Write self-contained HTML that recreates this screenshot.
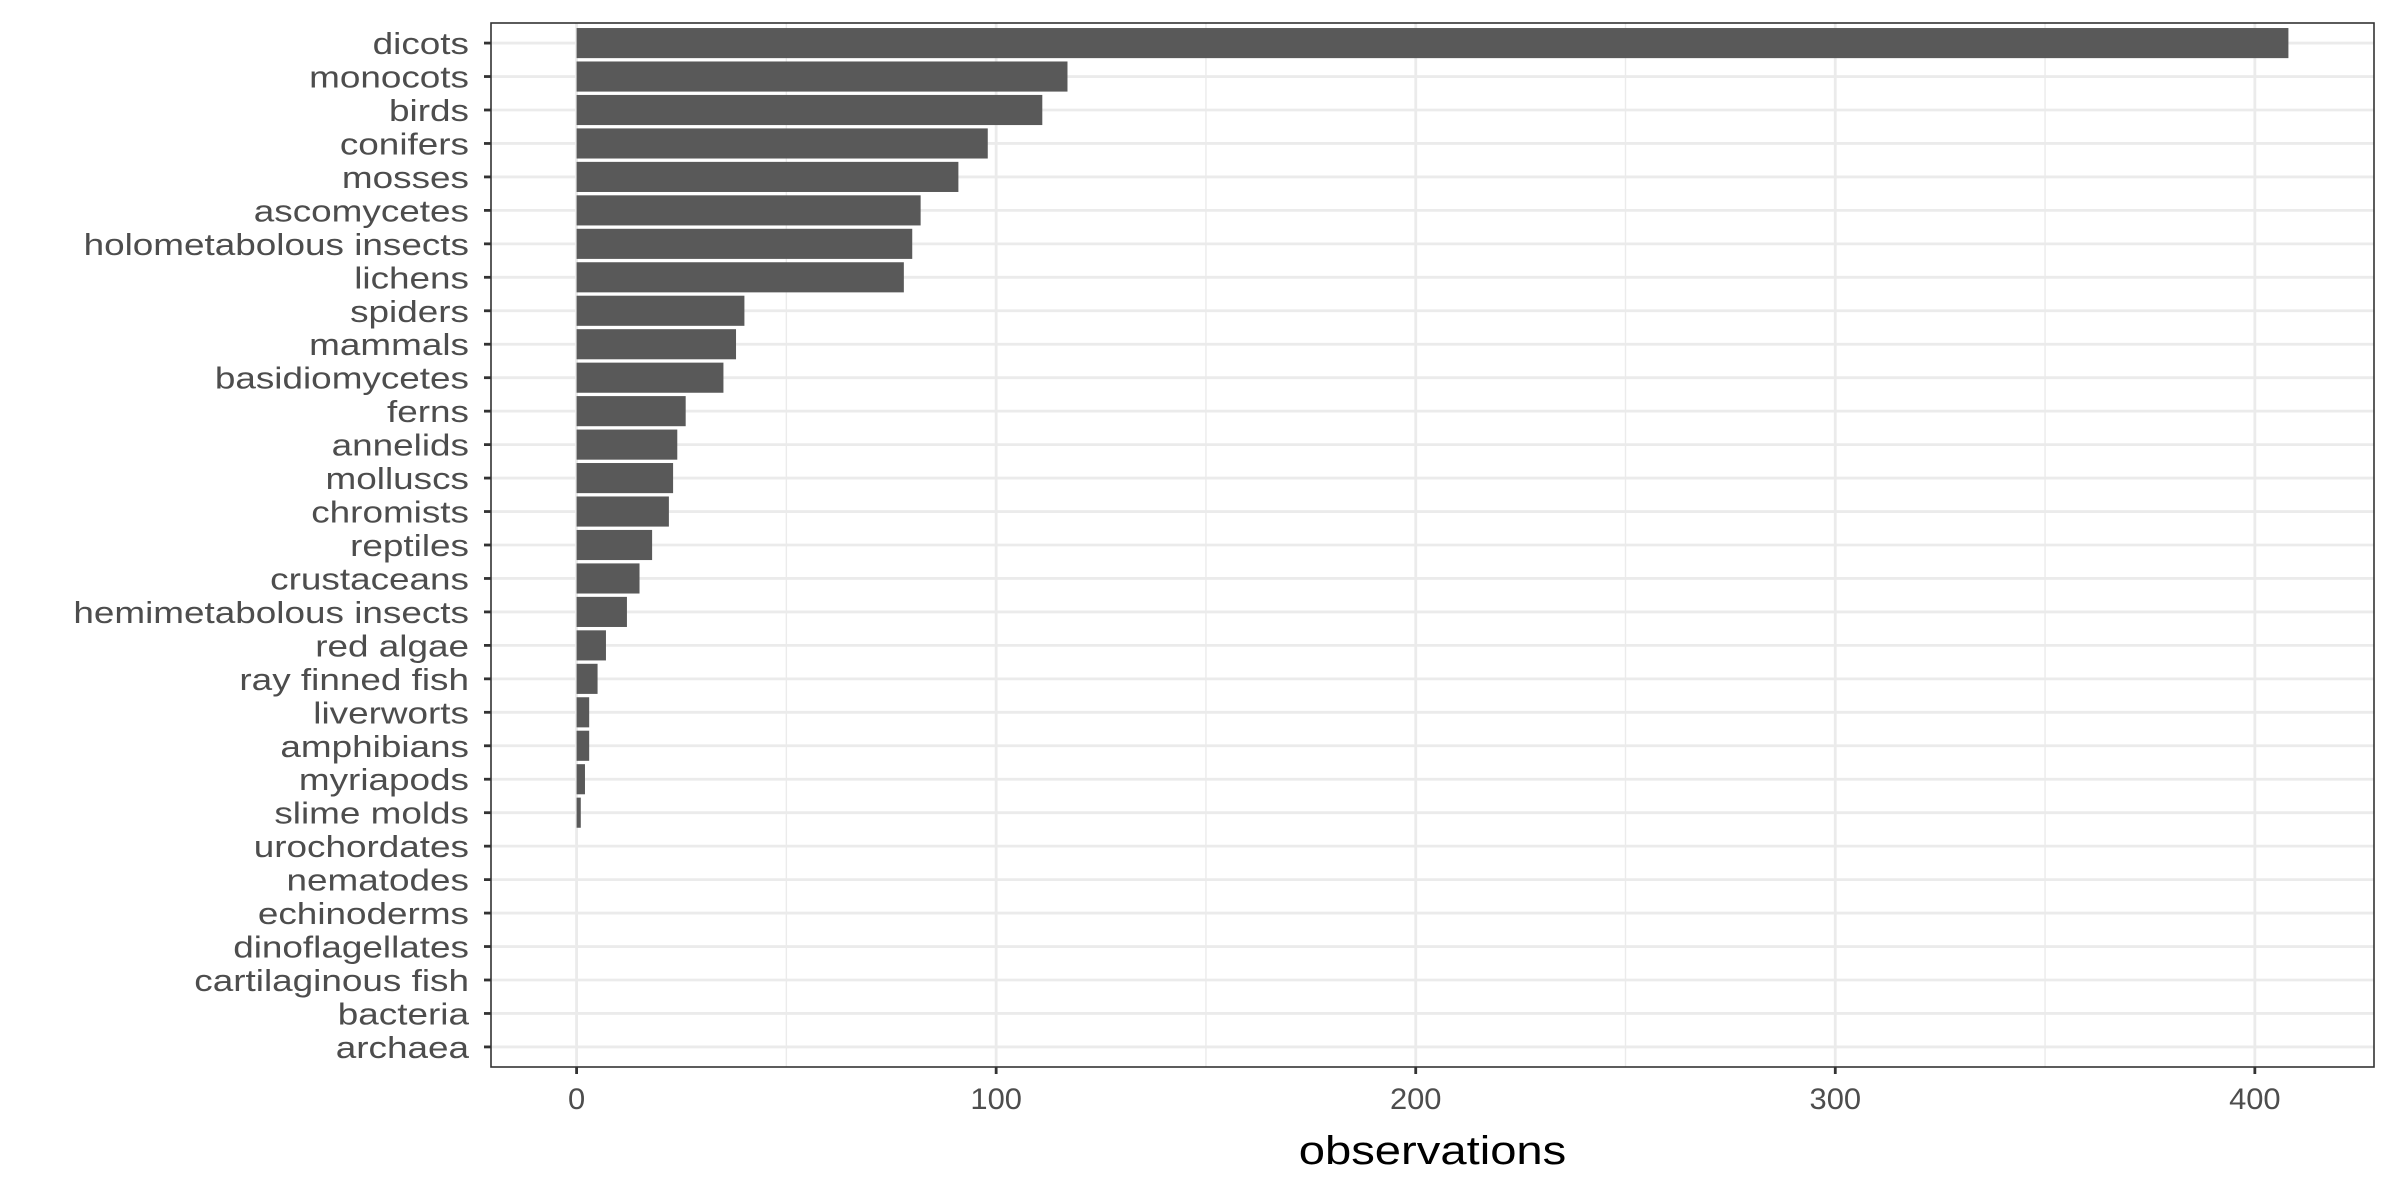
<!DOCTYPE html>
<html><head><meta charset="utf-8"><style>
html,body{margin:0;padding:0;background:#fff;}
svg{display:block;font-family:"Liberation Sans",Arial,sans-serif;}
</style></head><body>
<svg id="chart" width="2400" height="1200" viewBox="0 0 2400 1200"></svg>
<script>
const categories = ["dicots","monocots","birds","conifers","mosses","ascomycetes","holometabolous insects","lichens","spiders","mammals","basidiomycetes","ferns","annelids","molluscs","chromists","reptiles","crustaceans","hemimetabolous insects","red algae","ray finned fish","liverworts","amphibians","myriapods","slime molds","urochordates","nematodes","echinoderms","dinoflagellates","cartilaginous fish","bacteria","archaea"];
const observations = [408,117,111,98,91,82,80,78,40,38,35,26,24,23,22,18,15,12,7,5,3,3,2,1,0,0,0,0,0,0,0];
const xTicks = [0,100,200,300,400];
const xMinor = [50,150,250,350];

const NS="http://www.w3.org/2000/svg";
const svg=document.getElementById('chart');
const L=491,R=2374,T=23,B=1067;
const xMin=-20.4,xMax=428.4;
const n=categories.length;
const x=v=>L+(v-xMin)/(xMax-xMin)*(R-L);
const step=(B-T)/(n+0.2);
const y=i=>T+(0.6+i)*step;
function mk(tag,attrs,parent){const e=document.createElementNS(NS,tag);for(const k in attrs)e.setAttribute(k,attrs[k]);(parent||svg).appendChild(e);return e;}

const grid=mk('g',{});


xMinor.forEach(v=>mk('line',{x1:x(v),x2:x(v),y1:T,y2:B,stroke:'#EBEBEB','stroke-width':1.4},grid));
xTicks.forEach(v=>mk('line',{x1:x(v),x2:x(v),y1:T,y2:B,stroke:'#EBEBEB','stroke-width':2.8},grid));
categories.forEach((c,i)=>mk('line',{x1:L,x2:R,y1:y(i),y2:y(i),stroke:'#EBEBEB','stroke-width':2.8},grid));

const bars=mk('g',{});


observations.forEach((v,i)=>{
  if(v<=0)return;
  const h=step*0.9;
  const r=mk('rect',{x:x(0),y:y(i)-h/2,width:x(v)-x(0),height:h,fill:'#595959'},bars);
  
  
});

const border=mk('rect',{x:L,y:T,width:R-L,height:B-T,fill:'none',stroke:'#333333','stroke-width':1.6});



const ya=mk('g',{});


categories.forEach((c,i)=>{
  mk('line',{x1:L-7,x2:L,y1:y(i),y2:y(i),stroke:'#333333','stroke-width':2.8},ya);
  const t=mk('text',{x:0,y:0,'text-anchor':'end','font-size':31,fill:'#4D4D4D',transform:`translate(${L-22},${y(i)+11}) scale(1.19,1)`},ya);
  t.textContent=c;
  
  
});

const xa=mk('g',{});


xTicks.forEach(v=>{
  mk('line',{x1:x(v),x2:x(v),y1:B,y2:B+7,stroke:'#333333','stroke-width':2.8},xa);
  const t=mk('text',{x:0,y:0,'text-anchor':'middle','font-size':30,fill:'#4D4D4D',transform:`translate(${x(v)},${B+42}) scale(1.03,1)`},xa);
  t.textContent=v;
  
  
});
const title=mk('text',{x:0,y:0,'text-anchor':'middle','font-size':40,fill:'#000',transform:`translate(${(L+R)/2},1164) scale(1.18,1)`});
title.textContent='observations';


</script>
</body></html>
